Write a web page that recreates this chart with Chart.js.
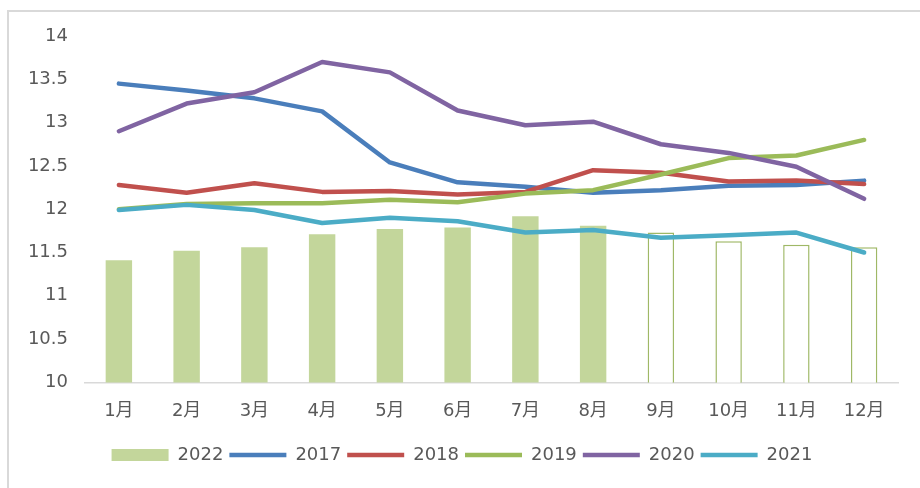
<!DOCTYPE html>
<html>
<head>
<meta charset="utf-8">
<script src="https://cdn.jsdelivr.net/npm/chart.js@4.4.1/dist/chart.umd.min.js"></script>
<style>
  html, body { margin: 0; padding: 0; background: #fff; }
  #wrap { position: relative; width: 920px; height: 488px; overflow: hidden; }
  #frame { position: absolute; left: 7px; top: 10px; width: 920px; height: 490px;
           border-top: 2px solid #d9d9d9; border-left: 2px solid #d9d9d9; }
  canvas { position: absolute; left: 0; top: 0; }
</style>
</head>
<body>
<div id="wrap">
  <div id="frame"></div>
  <canvas id="myChart" width="920" height="488"></canvas>
</div>
<script>
// months on x axis
var months = ['1月', '2月', '3月', '4月', '5月', '6月', '7月', '8月', '9月', '10月', '11月', '12月'];
var yTicks = [10, 10.5, 11, 11.5, 12, 12.5, 13, 13.5, 14];

// 2022 bars (9-12月 shown as hollow bars)
var v2022 = [11.41, 11.52, 11.56, 11.71, 11.77, 11.79, 11.92, 11.81, 11.73, 11.63, 11.59, 11.56];
var v2017 = [13.45, 13.37, 13.28, 13.13, 12.54, 12.31, 12.26, 12.19, 12.22, 12.27, 12.28, 12.33];
var v2018 = [12.28, 12.19, 12.30, 12.20, 12.21, 12.17, 12.20, 12.45, 12.42, 12.32, 12.33, 12.29];
var v2019 = [12.00, 12.06, 12.07, 12.07, 12.11, 12.08, 12.18, 12.22, 12.40, 12.59, 12.62, 12.80];
var v2020 = [12.90, 13.22, 13.35, 13.70, 13.58, 13.14, 12.97, 13.01, 12.75, 12.65, 12.49, 12.12];
var v2021 = [11.99, 12.05, 11.99, 11.84, 11.90, 11.86, 11.73, 11.76, 11.67, 11.70, 11.73, 11.50];
var filledMonths = 8;

var barGreen = '#c3d69b';
var barEdge = '#9fb866';
var textGray = '#595959';
var fontFamily = '"DejaVu Sans", "Noto Sans CJK SC", sans-serif';

var barFill = months.map(function(m, i) { return i < filledMonths ? barGreen : '#ffffff'; });
var barBorder = months.map(function(m, i) { return i < filledMonths ? barGreen : barEdge; });
var barBorderW = months.map(function(m, i) { return i < filledMonths ? 0 : 1.5; });

function lineSet(label, data, color, order) {
  return {
    type: 'line',
    label: label,
    data: data,
    borderColor: color,
    backgroundColor: color,
    borderWidth: 4.5,
    borderJoinStyle: 'round',
    borderCapStyle: 'round',
    pointRadius: 0,
    tension: 0,
    fill: false,
    order: order
  };
}

var ctx = document.getElementById('myChart').getContext('2d');
var chart = new Chart(ctx, {
  type: 'bar',
  data: {
    labels: months,
    datasets: [
      {
        label: '2022',
        data: v2022,
        backgroundColor: barFill,
        borderColor: barBorder,
        borderWidth: barBorderW,
        categoryPercentage: 1,
        barPercentage: 0.39,
        order: 6
      },
      lineSet('2017', v2017, '#4a7ebb', 5),
      lineSet('2018', v2018, '#c0504d', 4),
      lineSet('2019', v2019, '#9bbb59', 3),
      lineSet('2020', v2020, '#8064a2', 2),
      lineSet('2021', v2021, '#4bacc6', 1)
    ]
  },
  options: {
    responsive: false,
    animation: false,
    layout: { padding: { left: 26, right: 22, top: 36, bottom: 14 } },
    plugins: {
      tooltip: { enabled: false },
      legend: {
        position: 'bottom',
        labels: {
          usePointStyle: true,
          pointStyleWidth: 57,
          boxHeight: 12,
          padding: 6,
          color: textGray,
          font: { family: fontFamily, size: 18 },
          sort: function(a, b) { return a.datasetIndex - b.datasetIndex; },
          generateLabels: function(c) {
            var items = Chart.defaults.plugins.legend.labels.generateLabels(c);
            items.forEach(function(it) {
              it.pointStyle = it.datasetIndex === 0 ? 'rect' : 'line';
            });
            return items;
          }
        }
      }
    },
    scales: {
      x: {
        grid: { display: false, drawTicks: false },
        border: { display: true, color: '#d9d9d9', width: 1.5 },
        ticks: {
          color: textGray,
          padding: 18,
          font: { family: fontFamily, size: 18 }
        }
      },
      y: {
        min: 10,
        max: 14,
        afterBuildTicks: function(axis) {
          axis.ticks = yTicks.map(function(v) { return { value: v }; });
        },
        afterFit: function(axis) { axis.width = 59; },
        grid: { display: false, drawTicks: false },
        border: { display: false },
        ticks: {
          color: textGray,
          padding: 17,
          font: { family: fontFamily, size: 18 },
          callback: function(v) { return String(v); }
        }
      }
    }
  }
});
</script>
</body>
</html>
